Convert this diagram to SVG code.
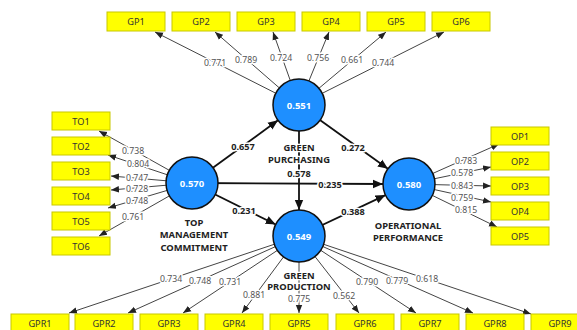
<svg xmlns="http://www.w3.org/2000/svg" width="577" height="330" viewBox="0 0 577 330">
  <defs>
    <marker id="ah-s" markerUnits="userSpaceOnUse" markerWidth="8" markerHeight="8" viewBox="0 0 8 8" refX="8" refY="4" orient="auto">
      <path d="M0,0.8 L8,4 L0,7.2 Z" fill="#222"/>
    </marker>
    <marker id="ah-l" markerUnits="userSpaceOnUse" markerWidth="10" markerHeight="10" viewBox="0 0 10 10" refX="10" refY="5" orient="auto">
      <path d="M0,0.8 L10,5 L0,9.2 Z" fill="#111"/>
    </marker>
    <style>
      text { font-family: "Noto Sans", "Open Sans", "Liberation Sans", sans-serif; text-anchor: middle; dominant-baseline: central; }
      .load { stroke: #444; stroke-width: 1; fill: none; marker-end: url(#ah-s); }
      .path { stroke: #111; stroke-width: 1.8; fill: none; marker-end: url(#ah-l); }
      .lv { font-size: 8.7px; fill: #555; paint-order: stroke; stroke: #fff; stroke-width: 3; stroke-linejoin: round; }
      .pv { font-size: 9.2px; font-weight: bold; fill: #222; paint-order: stroke; stroke: #fff; stroke-width: 3; stroke-linejoin: round; }
      .box rect { fill: #ffff00; stroke: #c8c800; stroke-width: 1; }
      .box text { font-size: 9.2px; fill: #333; }
      .lat circle { fill: #1e8fff; stroke: #111; stroke-width: 1.5; }
      .lat .r2 { font-size: 9.5px; font-weight: bold; fill: #fff; }
      .lat .name { font-size: 9.4px; font-weight: bold; fill: #222; paint-order: stroke; stroke: #fff; stroke-width: 2.5; stroke-linejoin: round; }
    </style>
  </defs>
  <rect width="577" height="330" fill="#fff"/>

  <g id="connectors">
    <!-- outer loadings: Green Purchasing -->
    <line class="load" x1="299" y1="105" x2="155" y2="32"/>
    <line class="load" x1="299" y1="105" x2="215" y2="32"/>
    <line class="load" x1="299" y1="105" x2="273" y2="32"/>
    <line class="load" x1="299" y1="105" x2="329" y2="32"/>
    <line class="load" x1="299" y1="105" x2="386" y2="32"/>
    <line class="load" x1="299" y1="105" x2="444" y2="32"/>
    <!-- outer loadings: Top Management Commitment -->
    <line class="load" x1="192" y1="183" x2="99" y2="131"/>
    <line class="load" x1="192" y1="183" x2="108" y2="155"/>
    <line class="load" x1="192" y1="183" x2="111" y2="176"/>
    <line class="load" x1="192" y1="183" x2="111" y2="190"/>
    <line class="load" x1="192" y1="183" x2="108" y2="208"/>
    <line class="load" x1="192" y1="183" x2="99" y2="236"/>
    <!-- outer loadings: Operational Performance -->
    <line class="load" x1="409" y1="184" x2="499" y2="144"/>
    <line class="load" x1="409" y1="184" x2="491" y2="167"/>
    <line class="load" x1="409" y1="184" x2="491" y2="186"/>
    <line class="load" x1="409" y1="184" x2="491" y2="202"/>
    <line class="load" x1="409" y1="184" x2="497" y2="227"/>
    <!-- outer loadings: Green Production -->
    <line class="load" x1="299" y1="236" x2="69" y2="313"/>
    <line class="load" x1="299" y1="236" x2="128" y2="313"/>
    <line class="load" x1="299" y1="236" x2="183" y2="313"/>
    <line class="load" x1="299" y1="236" x2="242" y2="313"/>
    <line class="load" x1="299" y1="236" x2="299" y2="313"/>
    <line class="load" x1="299" y1="236" x2="359" y2="313"/>
    <line class="load" x1="299" y1="236" x2="416" y2="313"/>
    <line class="load" x1="299" y1="236" x2="473" y2="313"/>
    <line class="load" x1="299" y1="236" x2="531" y2="314"/>

    <!-- inner model paths -->
    <line class="path" x1="192" y1="183" x2="278" y2="120.3"/>
    <line class="path" x1="192" y1="183" x2="383" y2="184"/>
    <line class="path" x1="192" y1="183" x2="275.7" y2="224.5"/>
    <line class="path" x1="299" y1="105" x2="387.9" y2="168.8"/>
    <line class="path" x1="299" y1="236" x2="385.5" y2="195.1"/>
    <line class="path" x1="299" y1="105" x2="299" y2="210"/>

    <!-- loading values -->
    <text class="lv" x="215" y="63">0.771</text>
    <text class="lv" x="246" y="60">0.789</text>
    <text class="lv" x="281" y="58">0.724</text>
    <text class="lv" x="318" y="58">0.756</text>
    <text class="lv" x="352" y="60">0.661</text>
    <text class="lv" x="383" y="63">0.744</text>

    <text class="lv" x="133" y="151">0.738</text>
    <text class="lv" x="138" y="164">0.804</text>
    <text class="lv" x="137" y="178">0.747</text>
    <text class="lv" x="137" y="189">0.728</text>
    <text class="lv" x="137" y="201">0.748</text>
    <text class="lv" x="133" y="217">0.761</text>

    <text class="lv" x="466" y="161">0.783</text>
    <text class="lv" x="462" y="173">0.578</text>
    <text class="lv" x="462" y="186">0.843</text>
    <text class="lv" x="462" y="198">0.759</text>
    <text class="lv" x="466" y="210">0.815</text>

    <text class="lv" x="171" y="279">0.734</text>
    <text class="lv" x="200" y="281">0.748</text>
    <text class="lv" x="230" y="282">0.731</text>
    <text class="lv" x="254" y="295">0.881</text>
    <text class="lv" x="344" y="296">0.562</text>
    <text class="lv" x="367" y="282">0.790</text>
    <text class="lv" x="397" y="281">0.779</text>
    <text class="lv" x="427" y="279">0.618</text>

    <!-- path coefficients -->
    <text class="pv" x="243" y="146">0.657</text>
    <text class="pv" x="353" y="147">0.272</text>
    <text class="pv" x="330" y="184">0.235</text>
    <text class="pv" x="244" y="210">0.231</text>
    <text class="pv" x="353" y="211">0.388</text>
  </g>

  <!-- latent variables -->
  <g id="green-purchasing" class="lat">
    <circle cx="299" cy="105" r="26"/>
    <text class="r2" x="299" y="105">0.551</text>
    <text class="name" x="299" y="147">GREEN</text>
    <text class="name" x="299" y="159">PURCHASING</text>
  </g>
  <text class="pv" x="299" y="173">0.578</text>
  <g id="top-management" class="lat">
    <circle cx="192" cy="183" r="26"/>
    <text class="r2" x="192" y="183">0.570</text>
    <text class="name" x="194" y="222">TOP</text>
    <text class="name" x="194" y="234.5">MANAGEMENT</text>
    <text class="name" x="194" y="247">COMMITMENT</text>
  </g>
  <g id="operational-performance" class="lat">
    <circle cx="409" cy="184" r="26"/>
    <text class="r2" x="409" y="184">0.580</text>
    <text class="name" x="408" y="225">OPERATIONAL</text>
    <text class="name" x="408" y="237">PERFORMANCE</text>
  </g>
  <g id="green-production" class="lat">
    <circle cx="299" cy="236" r="26"/>
    <text class="r2" x="299" y="236">0.549</text>
    <text class="name" x="299" y="275">GREEN</text>
    <text class="name" x="299" y="286.5">PRODUCTION</text>
  </g>
  <text class="lv" x="299" y="298.5">0.775</text>

  <!-- indicators: Green Purchasing -->
  <g id="GP1" class="box"><rect x="107" y="12" width="58" height="19"/><text x="136" y="21.5">GP1</text></g>
  <g id="GP2" class="box"><rect x="172" y="12" width="58" height="19"/><text x="201" y="21.5">GP2</text></g>
  <g id="GP3" class="box"><rect x="237" y="12" width="58" height="19"/><text x="266" y="21.5">GP3</text></g>
  <g id="GP4" class="box"><rect x="302" y="12" width="58" height="19"/><text x="331" y="21.5">GP4</text></g>
  <g id="GP5" class="box"><rect x="367" y="12" width="58" height="19"/><text x="396" y="21.5">GP5</text></g>
  <g id="GP6" class="box"><rect x="432" y="12" width="58" height="19"/><text x="461" y="21.5">GP6</text></g>

  <!-- indicators: Top Management Commitment -->
  <g id="TO1" class="box"><rect x="52" y="112" width="58" height="18"/><text x="81" y="121">TO1</text></g>
  <g id="TO2" class="box"><rect x="52" y="137" width="58" height="18"/><text x="81" y="146">TO2</text></g>
  <g id="TO3" class="box"><rect x="52" y="162" width="58" height="18"/><text x="81" y="171">TO3</text></g>
  <g id="TO4" class="box"><rect x="52" y="187" width="58" height="18"/><text x="81" y="196">TO4</text></g>
  <g id="TO5" class="box"><rect x="52" y="212" width="58" height="18"/><text x="81" y="221">TO5</text></g>
  <g id="TO6" class="box"><rect x="52" y="237" width="58" height="18"/><text x="81" y="246">TO6</text></g>

  <!-- indicators: Operational Performance -->
  <g id="OP1" class="box"><rect x="491" y="127" width="58" height="18"/><text x="520" y="136">OP1</text></g>
  <g id="OP2" class="box"><rect x="491" y="152" width="58" height="18"/><text x="520" y="161">OP2</text></g>
  <g id="OP3" class="box"><rect x="491" y="177" width="58" height="18"/><text x="520" y="186">OP3</text></g>
  <g id="OP4" class="box"><rect x="491" y="202" width="58" height="18"/><text x="520" y="211">OP4</text></g>
  <g id="OP5" class="box"><rect x="491" y="227" width="58" height="18"/><text x="520" y="236">OP5</text></g>

  <!-- indicators: Green Production -->
  <g id="GPR1" class="box"><rect x="11" y="314" width="58" height="19"/><text x="40" y="323.5">GPR1</text></g>
  <g id="GPR2" class="box"><rect x="75" y="314" width="58" height="19"/><text x="104" y="323.5">GPR2</text></g>
  <g id="GPR3" class="box"><rect x="140" y="314" width="58" height="19"/><text x="169" y="323.5">GPR3</text></g>
  <g id="GPR4" class="box"><rect x="205" y="314" width="58" height="19"/><text x="234" y="323.5">GPR4</text></g>
  <g id="GPR5" class="box"><rect x="270" y="314" width="58" height="19"/><text x="299" y="323.5">GPR5</text></g>
  <g id="GPR6" class="box"><rect x="336" y="314" width="58" height="19"/><text x="365" y="323.5">GPR6</text></g>
  <g id="GPR7" class="box"><rect x="401" y="314" width="58" height="19"/><text x="430" y="323.5">GPR7</text></g>
  <g id="GPR8" class="box"><rect x="466" y="314" width="58" height="19"/><text x="495" y="323.5">GPR8</text></g>
  <g id="GPR9" class="box"><rect x="531" y="314" width="58" height="19"/><text x="560" y="323.5">GPR9</text></g>
</svg>
